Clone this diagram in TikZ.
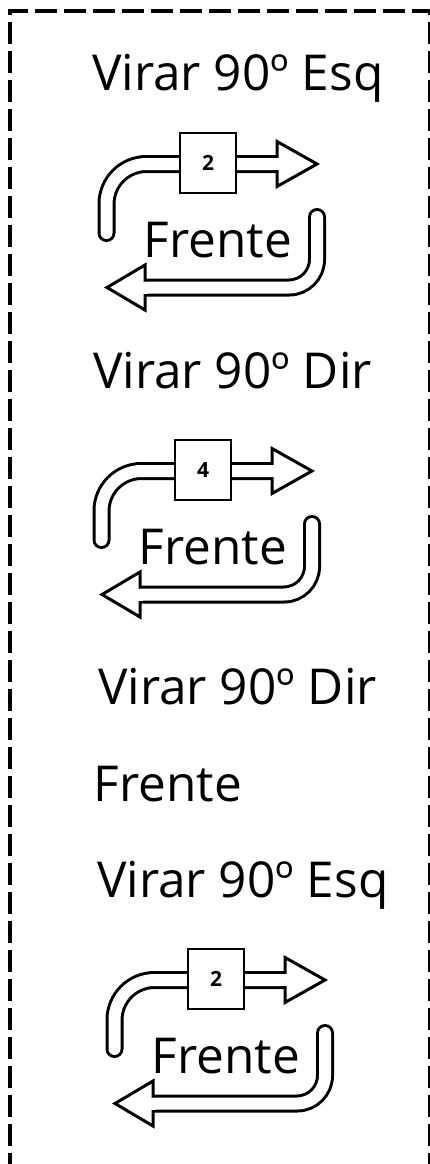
\documentclass[tikz,border=0pt]{standalone}
\usepackage{fontspec}
\setmainfont{Open Sans}
\tikzset{
  title/.style={anchor=base west, inner sep=0pt, font=\fontsize{49.5}{60}\selectfont},
  numbox/.style={draw, line width=2pt, fill=white, minimum width=56pt, minimum height=60pt, inner sep=0pt, font=\bfseries\fontsize{21}{25}\selectfont},
  tubeout/.style={line width=18pt, line cap=round},
  tubein/.style={line width=12pt, white, line cap=round},
  headsty/.style={fill=white, draw=black, line width=3pt, line join=miter},
  borderline/.style={line width=4pt, dash pattern=on 22pt off 7pt},
}
\newcommand\loopgrp[4]{%
\begin{scope}[shift={(#1,#2)}]
  \draw[tubeout, rounded corners=40pt] (106.5,233) -- (106.5,164) -- (279,164);
  \draw[tubeout, rounded corners=28pt] (317,217) -- (317,287.5) -- (143,287.5);
  \draw[headsty] (277,141.5) -- (317,164) -- (277,186.5) -- cycle;
  \draw[headsty] (145,265) -- (107,287.5) -- (145,310) -- cycle;
  \draw[tubein, rounded corners=40pt] (106.5,233) -- (106.5,164) -- (276,164);
  \draw[tubein, rounded corners=28pt] (317,217) -- (317,287.5) -- (146,287.5);
  \fill[white] (274,158) rectangle (280,170);
  \fill[white] (142,281.5) rectangle (148,293.5);
  \node[numbox] (box#4) at (208,163) {#3};
  \node[title] (fr#4) at (143.5,257) {Frente};
\end{scope}}
\begin{document}
\begin{tikzpicture}[x=1pt,y=-1pt]
\useasboundingbox (0,0) rectangle (430,1164);
\fill[white] (0,0) rectangle (430,1164);
\draw[borderline] (10,1175) -- (10,11) -- (430,11) -- (430,1175);
\node[title] (t1) at (92,90) {Virar 90º Esq};
\loopgrp{0}{0}{2}{a}
\node[title] (t2) at (93,388) {Virar 90º Dir};
\loopgrp{-5}{307}{4}{b}
\node[title] (t3) at (98,704) {Virar 90º Dir};
\node[title] (t4) at (93.5,801) {Frente};
\node[title] (t5) at (97,897) {Virar 90º Esq};
\loopgrp{8}{816}{2}{c}
\end{tikzpicture}
\end{document}
